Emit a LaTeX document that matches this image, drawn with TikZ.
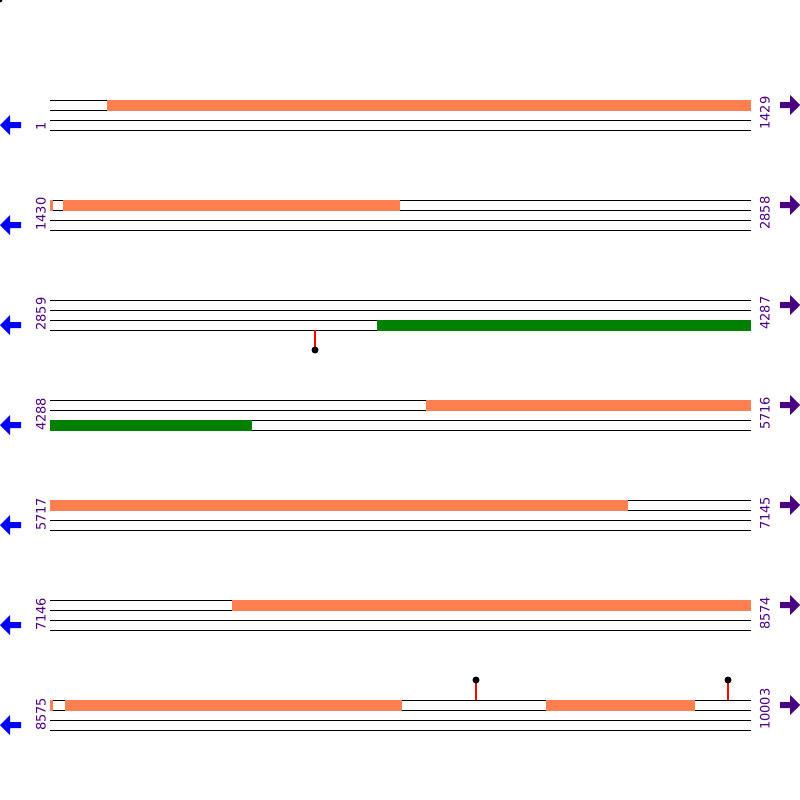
\documentclass[tikz,border=0pt]{standalone}
\usepackage{fontspec}
\setmainfont{DejaVu Sans}
\definecolor{ind}{RGB}{75,0,130}
\definecolor{coralc}{RGB}{255,127,80}
\definecolor{grn}{RGB}{0,128,0}
\begin{document}
\begin{tikzpicture}[x=1pt,y=-1pt,
  strand/.style={black,line width=1pt},
  fwdbox/.style={fill=coralc},
  revbox/.style={fill=grn},
  lab/.style={text=ind,font=\fontsize{13}{13}\selectfont,inner sep=0pt,anchor=west,rotate=90},
  stem/.style={red,line width=1.2pt},
  knob/.style={fill=black}]
\useasboundingbox (0,0) rectangle (800,800);
\fill (0,0) circle (2.5);
% strands
\foreach \r in {100,200,...,700}{
  \foreach \d in {0,10,20,30}{
    \draw[strand] (50,{\r+\d}) -- (751,{\r+\d});
  }
  \fill[blue] (0,{\r+25}) -- (10,{\r+15}) -- (10,{\r+22}) -- (21,{\r+22}) -- (21,{\r+28}) -- (10,{\r+28}) -- (10,{\r+35}) -- cycle;
  \fill[ind] (800,{\r+5}) -- (790,{\r-5}) -- (790,{\r+2}) -- (780,{\r+2}) -- (780,{\r+8}) -- (790,{\r+8}) -- (790,{\r+15}) -- cycle;
}
% boxes
\fill[fwdbox] (107,99.5) rectangle (751,110.5);
\fill[fwdbox] (50,199.5) rectangle (52.5,210.5);
\fill[fwdbox] (63,199.5) rectangle (400,210.5);
\fill[revbox] (377,319.5) rectangle (751,330.5);
\fill[fwdbox] (426,399.5) rectangle (751,410.5);
\fill[revbox] (50,419.5) rectangle (252,430.5);
\fill[fwdbox] (50,499.5) rectangle (628,510.5);
\fill[fwdbox] (232,599.5) rectangle (751,610.5);
\fill[fwdbox] (50,699.5) rectangle (52.5,710.5);
\fill[fwdbox] (65,699.5) rectangle (402,710.5);
\fill[fwdbox] (546,699.5) rectangle (695,710.5);
% lollipops
\coordinate (s1a) at (315,330); \coordinate (s1b) at (315,350);
\draw[stem] (s1a) -- (s1b); \fill[knob] (s1b) circle (3.5);
\coordinate (s2a) at (476,700); \coordinate (s2b) at (476,680);
\draw[stem] (s2a) -- (s2b); \fill[knob] (s2b) circle (3.5);
\coordinate (s3a) at (728,700); \coordinate (s3b) at (728,680);
\draw[stem] (s3a) -- (s3b); \fill[knob] (s3b) circle (3.5);
% labels
\node[lab] (l1) at (41,131) {1};
\node[lab] (r1) at (765,130) {1429};
\node[lab] (l2) at (41,231) {1430};
\node[lab] (r2) at (765,230) {2858};
\node[lab] (l3) at (41,331) {2859};
\node[lab] (r3) at (765,330) {4287};
\node[lab] (l4) at (41,431) {4288};
\node[lab] (r4) at (765,430) {5716};
\node[lab] (l5) at (41,531) {5717};
\node[lab] (r5) at (765,530) {7145};
\node[lab] (l6) at (41,631) {7146};
\node[lab] (r6) at (765,630) {8574};
\node[lab] (l7) at (41,731) {8575};
\node[lab] (r7) at (765,730) {10003};
\end{tikzpicture}
\end{document}
